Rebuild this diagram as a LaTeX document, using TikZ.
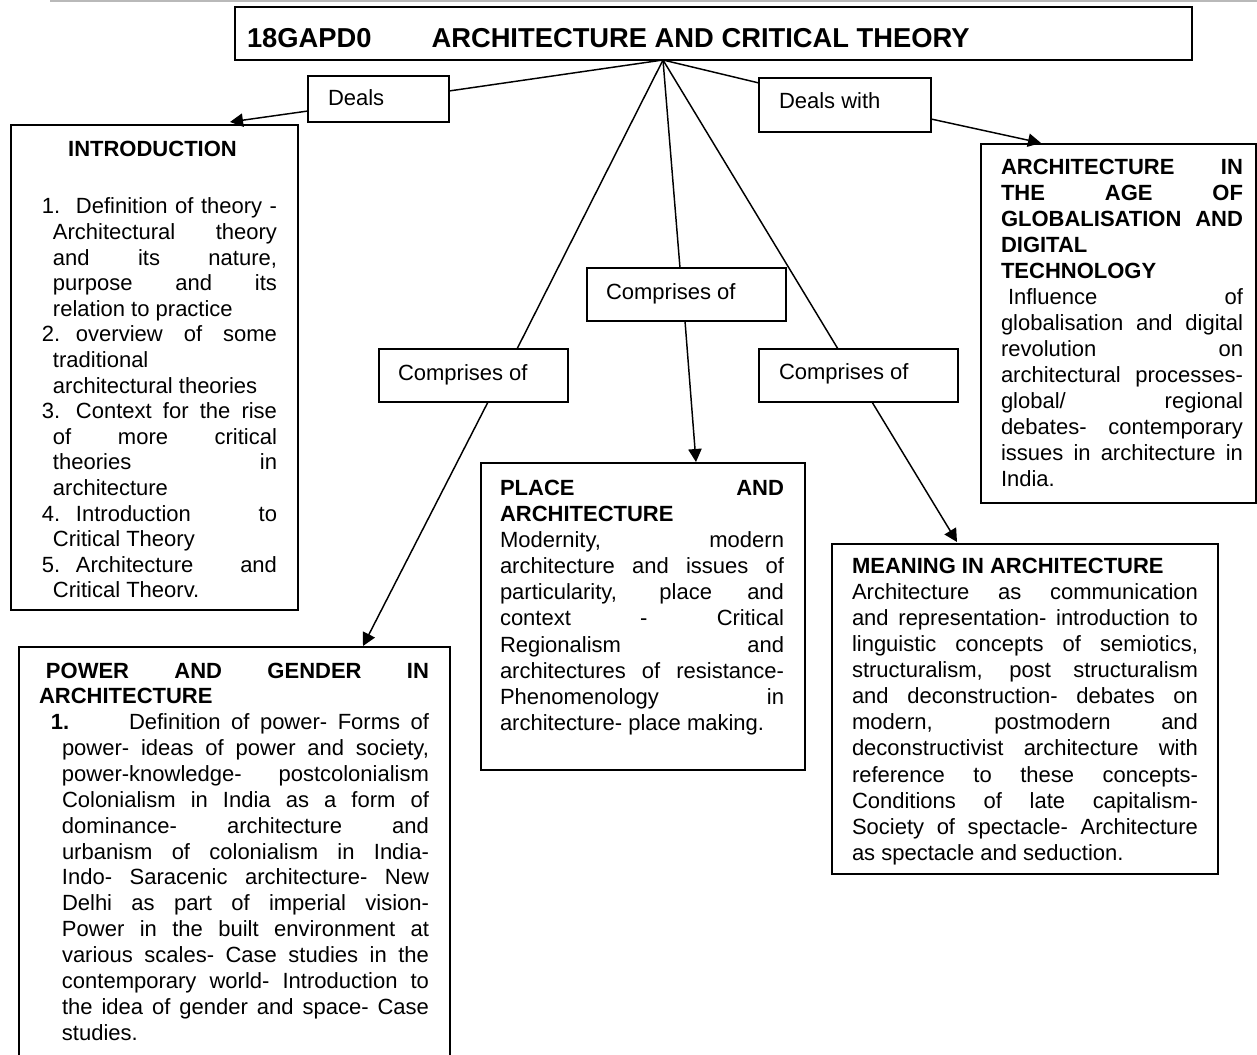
\documentclass[tikz,border=0pt]{standalone}
\usepackage{fontspec}
\setmainfont{Liberation Sans}
\usepackage{tikz}
\usetikzlibrary{arrows.meta,calc}

\newlength{\px}
\setlength{\px}{0.75pt}
% left pad, text width, right pad, box height, first baseline, text
\newcommand{\panel}[6]{\hspace*{#1\px}\parbox[c][#4\px][t]{#2\px}{\rule{0pt}{#5\px}#6}\hspace*{#3\px}}
\newcommand{\jline}[1]{\makebox[\linewidth][s]{#1}}

\tikzset{
  box/.style={draw, fill=white, line width=1.5pt, inner sep=0pt, outer sep=0pt, anchor=north west},
  txt/.style={font=\fontsize{16.5pt}{#1pt}\selectfont},
  txt/.default=19.4,
  link/.style={line width=1.1pt},
  arr/.style={line width=1.1pt, -{Triangle[length=9.75pt,width=10pt]}}
}

\begin{document}
\begin{tikzpicture}[x=0.75pt,y=0.75pt,yscale=-1,xscale=1]
    \useasboundingbox (0,0) rectangle (1257,1055);

    %Straight Lines (page rule)
    \draw [gray!55, line width=1.5pt] (50,1.5) -- (1257,1.5) ;

    % Text Node
    \node [box, font=\bfseries\fontsize{20.5pt}{23pt}\selectfont] (title) at (235,7)
      {\panel{12}{945}{0}{53}{41}{18GAPD0\hspace*{60\px}ARCHITECTURE AND CRITICAL THEORY}};
    \coordinate (apex) at ($(title.south west)+(428,0)$);

    % Text Node
    \node [box, txt] (deals) at (308,76) {\panel{20}{121}{0}{46}{30}{Deals}};
    % Text Node
    \node [box, txt] (dealsw) at (759,78) {\panel{20}{152}{0}{54}{31}{Deals with}};
    % Text Node
    \node [box, txt] (compm) at (587,268) {\panel{19}{180}{0}{53}{32}{Comprises of}};
    % Text Node
    \node [box, txt] (compl) at (379,349) {\panel{19}{170}{0}{53}{32}{Comprises of}};
    % Text Node
    \node [box, txt] (compr) at (759,349) {\panel{20}{179}{0}{53}{31}{Comprises of}};

    % Text Node
    \node [box, txt=19.2] (intro) at (11,125) {\panel{31}{235}{21}{485}{32}{%
      \makebox[\linewidth]{\hspace*{-14\px}\textbf{INTRODUCTION}}\\[31.4\px]
      \jline{\makebox[34\px][l]{1.}Definition of theory -}\\
      \jline{\hspace*{11\px}Architectural theory}\\
      \jline{\hspace*{11\px}and its nature,}\\
      \jline{\hspace*{11\px}purpose and its}\\
      \hspace*{11\px}relation to practice\\
      \jline{\makebox[34\px][l]{2.}overview of some}\\
      \hspace*{11\px}traditional\\
      \hspace*{11\px}architectural theories\\
      \jline{\makebox[34\px][l]{3.}Context for the rise}\\
      \jline{\hspace*{11\px}of more critical}\\
      \jline{\hspace*{11\px}theories in}\\
      \hspace*{11\px}architecture\\
      \jline{\makebox[34\px][l]{4.}Introduction to}\\
      \hspace*{11\px}Critical Theory\\
      \jline{\makebox[34\px][l]{5.}Architecture and}\\
      \hspace*{11\px}Critical Theorv.}};

    % Text Node
    \node [box, txt=19.5] (arch) at (981,144) {\panel{20}{242}{13}{359}{31}{%
      \jline{\textbf{ARCHITECTURE IN}}\\
      \jline{\textbf{THE AGE OF}}\\
      \jline{\textbf{GLOBALISATION AND}}\\
      \textbf{DIGITAL}\\
      \textbf{TECHNOLOGY}\\
      \jline{\hspace*{7\px}Influence of}\\
      \jline{globalisation and digital}\\
      \jline{revolution on}\\
      \jline{architectural processes-}\\
      \jline{global/ regional}\\
      \jline{debates- contemporary}\\
      \jline{issues in architecture in}\\
      India.}};

    % Text Node
    \node [box, txt=19.65] (place) at (481,463) {\panel{19}{284}{21}{307}{32}{%
      \jline{\textbf{PLACE AND}}\\
      \textbf{ARCHITECTURE}\\
      \jline{Modernity, modern}\\
      \jline{architecture and issues of}\\
      \jline{particularity, place and}\\
      \jline{context - Critical}\\
      \jline{Regionalism and}\\
      \jline{architectures of resistance-}\\
      \jline{Phenomenology in}\\
      architecture- place making.}};

    % Text Node
    \node [box, txt=19.6] (meaning) at (832,544) {\panel{20}{346}{20}{330}{29}{%
      \textbf{MEANING IN ARCHITECTURE}\\
      \jline{Architecture as communication}\\
      \jline{and representation- introduction to}\\
      \jline{linguistic concepts of semiotics,}\\
      \jline{structuralism, post structuralism}\\
      \jline{and deconstruction- debates on}\\
      \jline{modern, postmodern and}\\
      \jline{deconstructivist architecture with}\\
      \jline{reference to these concepts-}\\
      \jline{Conditions of late capitalism-}\\
      \jline{Society of spectacle- Architecture}\\
      as spectacle and seduction.}};

    % Text Node
    \node [box, txt=19.4] (power) at (19,647) {\panel{20}{390}{21}{420}{31}{%
      \jline{\hspace*{7\px}\textbf{POWER AND GENDER IN}}\\
      \textbf{ARCHITECTURE}\\
      \jline{\hspace*{12\px}\makebox[78\px][l]{\textbf{1.}}Definition of power- Forms of}\\
      \jline{\hspace*{23\px}power- ideas of power and society,}\\
      \jline{\hspace*{23\px}power-knowledge- postcolonialism}\\
      \jline{\hspace*{23\px}Colonialism in India as a form of}\\
      \jline{\hspace*{23\px}dominance- architecture and}\\
      \jline{\hspace*{23\px}urbanism of colonialism in India-}\\
      \jline{\hspace*{23\px}Indo- Saracenic architecture- New}\\
      \jline{\hspace*{23\px}Delhi as part of imperial vision-}\\
      \jline{\hspace*{23\px}Power in the built environment at}\\
      \jline{\hspace*{23\px}various scales- Case studies in the}\\
      \jline{\hspace*{23\px}contemporary world- Introduction to}\\
      \jline{\hspace*{23\px}the idea of gender and space- Case}\\
      \hspace*{23\px}studies.}};

    %Straight Lines
    \draw [link] (apex) -- ($(deals.north east)+(0,15)$) ;
    \draw [arr] ($(deals.north west)+(0,35)$) -- ($(intro.north west)+(219,-3)$) ;
    %Straight Lines
    \draw [link] (apex) -- ($(dealsw.north west)+(0,5)$) ;
    \draw [arr] ($(dealsw.north east)+(0,41)$) -- ($(arch.north west)+(60,-1)$) ;
    %Straight Lines
    \draw [link] (apex) -- ($(compl.north west)+(138,0)$) ;
    \draw [arr] ($(compl.south west)+(109,0)$) -- ($(power.north west)+(344,-1)$) ;
    %Straight Lines
    \draw [link] (apex) -- ($(compm.north west)+(93,0)$) ;
    \draw [arr] ($(compm.south west)+(98,0)$) -- ($(place.north west)+(215,-1)$) ;
    %Straight Lines
    \draw [link] (apex) -- ($(compr.north west)+(79,0)$) ;
    \draw [arr] ($(compr.south west)+(113,0)$) -- ($(meaning.north west)+(125,-2)$) ;

\end{tikzpicture}
\end{document}
